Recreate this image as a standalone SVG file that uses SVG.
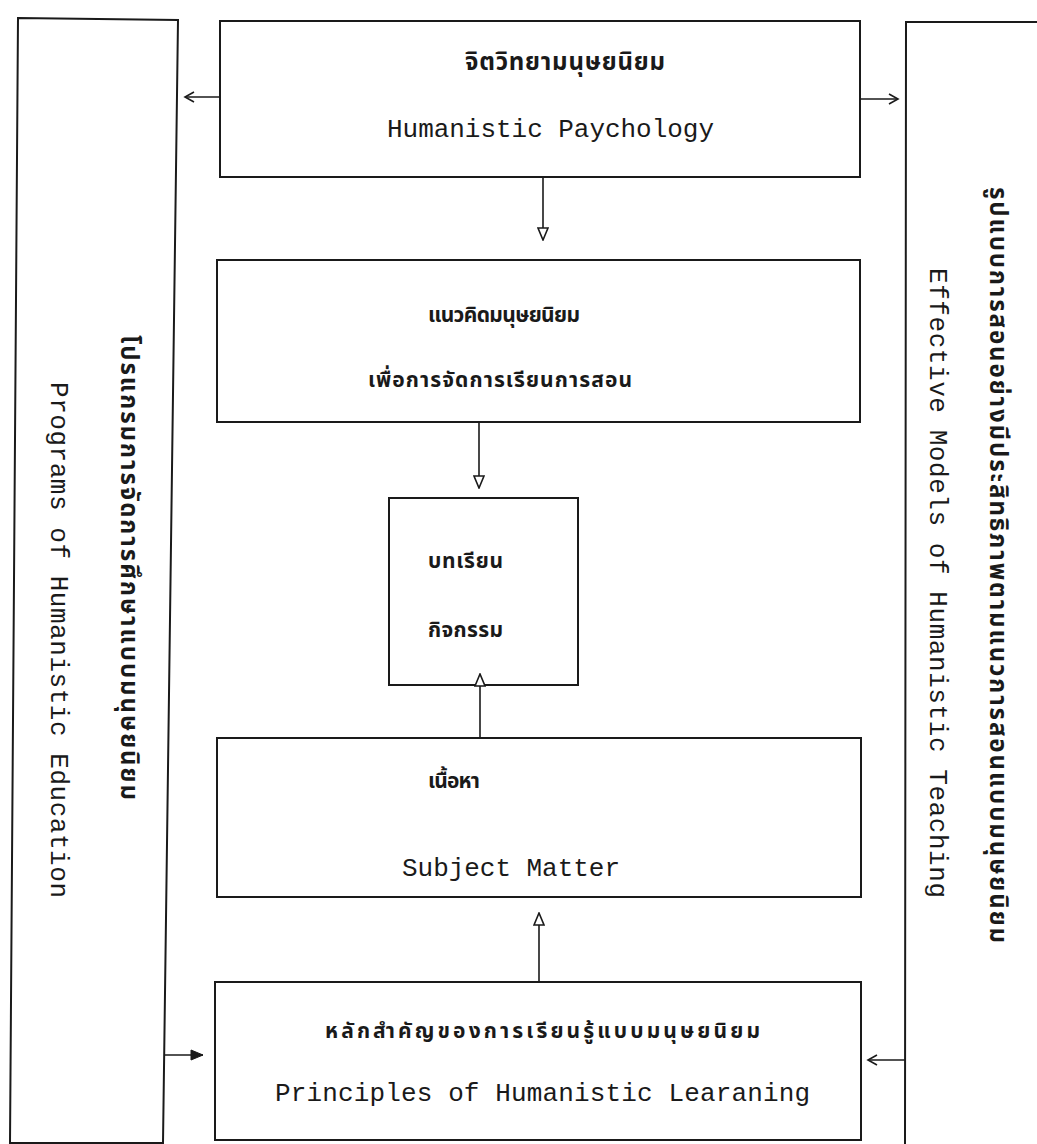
<svg xmlns="http://www.w3.org/2000/svg" width="1037" height="1144" viewBox="0 0 1037 1144">
<style>
.box{fill:none;stroke:#1a1a1a;stroke-width:2}
.ln{fill:none;stroke:#1a1a1a;stroke-width:1.6}
.en{font-family:'Liberation Mono','DejaVu Sans Mono',monospace;font-size:26px;fill:#1a1a1a}
.th{font-family:'Noto Sans Thai','Noto Sans Thai UI','Loma','Garuda','Tlwg Typo','DejaVu Sans',sans-serif;font-size:24px;font-weight:bold;fill:#1a1a1a}
.ths{font-size:21px}
</style>
<defs>
<marker id="open" markerUnits="userSpaceOnUse" markerWidth="14" markerHeight="12" refX="12" refY="5" orient="auto" viewBox="-1 -1 14 12"><path d="M0,0 L12,5 L0,10 Z" fill="#fff" stroke="#1a1a1a" stroke-width="1.6"/></marker>
<marker id="fill" markerUnits="userSpaceOnUse" markerWidth="14" markerHeight="12" refX="12" refY="5" orient="auto" viewBox="-1 -1 14 12"><path d="M0,0 L12,5 L0,10 Z" fill="#1a1a1a" stroke="#1a1a1a" stroke-width="1"/></marker>
<marker id="chev" markerUnits="userSpaceOnUse" markerWidth="14" markerHeight="12" refX="11" refY="5" orient="auto" viewBox="-1 -1 14 12"><path d="M2,0 L11,5 L2,10" fill="none" stroke="#1a1a1a" stroke-width="1.6"/></marker>
</defs>
<rect width="1037" height="1144" fill="#fff"/>
<g id="programs">
<path class="box" d="M18,18 L178,20 L163,1143 L10,1143 Z"/>
<text class="th" transform="translate(121,335) rotate(90)" textLength="465">โปรแกรมการจัดการศึกษาแบบมนุษยนิยม</text>
<text class="en" transform="translate(51,382) rotate(90)" textLength="516">Programs of Humanistic Education</text>
</g>
<g id="models">
<path class="box" d="M1045,22 L906,22 L905,1150"/>
<text class="th" transform="translate(990,187) rotate(90)" textLength="756">รูปแบบการสอนอย่างมีประสิทธิภาพตามแนวการสอนแบบมนุษยนิยม</text>
<text class="en" transform="translate(930,268) rotate(90)" textLength="630">Effective Models of Humanistic Teaching</text>
</g>
<g id="psychology">
<rect class="box" x="220" y="21" width="640" height="156"/>
<text class="th" x="465" y="70" textLength="200">จิตวิทยามนุษยนิยม</text>
<text class="en" x="387" y="137" textLength="327">Humanistic Paychology</text>
</g>
<g id="concept">
<rect class="box" x="217" y="260" width="643" height="162"/>
<text class="th ths" x="428" y="322" textLength="152">แนวคิดมนุษยนิยม</text>
<text class="th ths" x="368" y="387" textLength="264">เพื่อการจัดการเรียนการสอน</text>
</g>
<g id="lesson">
<rect class="box" x="389" y="498" width="189" height="187"/>
<text class="th ths" x="428" y="568" textLength="75">บทเรียน</text>
<text class="th ths" x="428" y="637" textLength="75">กิจกรรม</text>
</g>
<g id="content">
<rect class="box" x="217" y="738" width="644" height="159"/>
<text class="th ths" x="428" y="788" textLength="52">เนื้อหา</text>
<text class="en" x="402" y="876" textLength="218">Subject Matter</text>
</g>
<g id="principles">
<rect class="box" x="215" y="982" width="646" height="158"/>
<text class="th ths" x="325" y="1038" textLength="435">หลักสำคัญของการเรียนรู้แบบมนุษยนิยม</text>
<text class="en" x="275" y="1101" textLength="535">Principles of Humanistic Learaning</text>
</g>
<g id="connectors">
<line class="ln" x1="220" y1="97" x2="185" y2="97" marker-end="url(#chev)"/>
<line class="ln" x1="860" y1="99" x2="898" y2="99" marker-end="url(#chev)"/>
<line class="ln" x1="543" y1="177" x2="543" y2="240" marker-end="url(#open)"/>
<line class="ln" x1="479" y1="422" x2="479" y2="488" marker-end="url(#open)"/>
<line class="ln" x1="480" y1="738" x2="480" y2="674" marker-end="url(#open)"/>
<line class="ln" x1="539" y1="982" x2="539" y2="913" marker-end="url(#open)"/>
<line class="ln" x1="165" y1="1055" x2="203" y2="1055" marker-end="url(#fill)"/>
<line class="ln" x1="905" y1="1060" x2="868" y2="1060" marker-end="url(#chev)"/>
</g>
</svg>
